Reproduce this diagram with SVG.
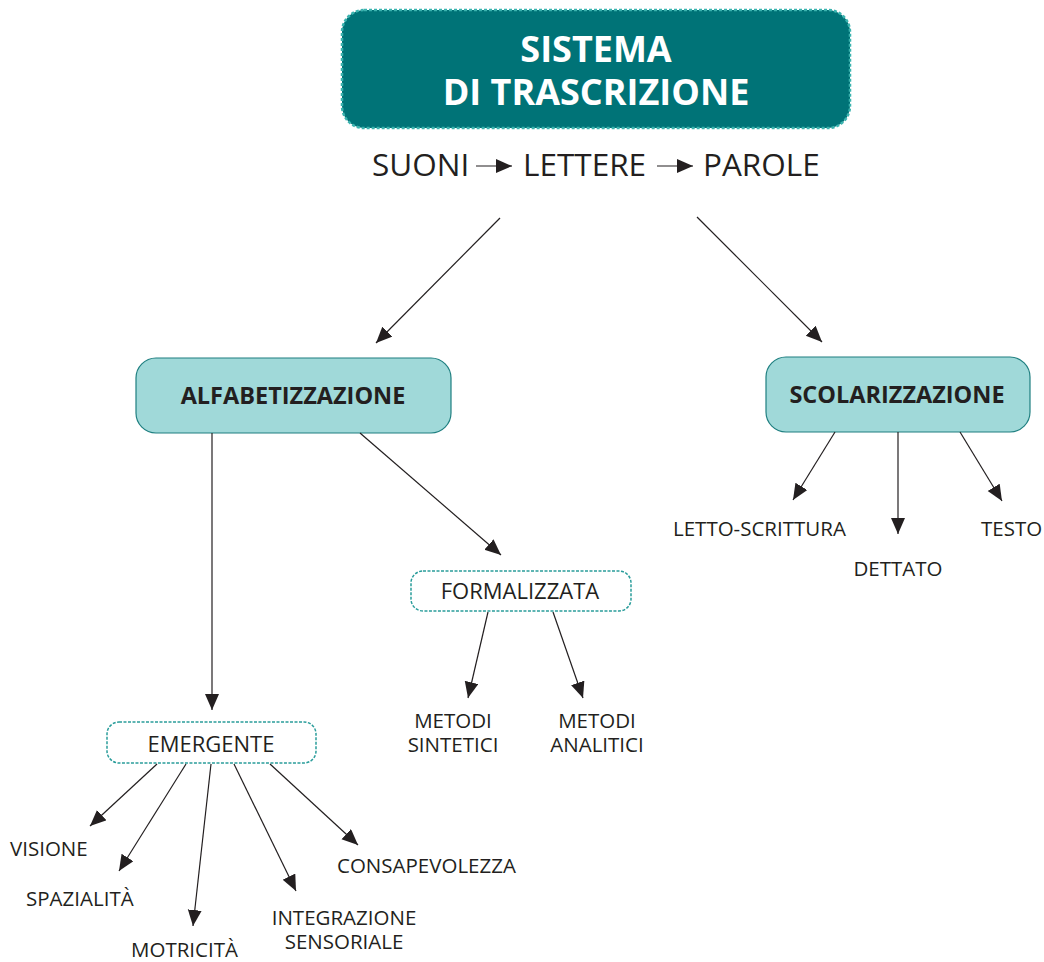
<svg xmlns="http://www.w3.org/2000/svg" width="1044" height="962" viewBox="0 0 1044 962">
<defs>
<marker id="ah" markerUnits="userSpaceOnUse" markerWidth="17" markerHeight="15" refX="16" refY="7" orient="auto">
<path d="M0,0 L16,7 L0,14 z" fill="#231f20"/>
</marker>
<style>
.t{font-family:"Open Sans","Noto Sans",sans-serif;fill:#231f20}
.lbl{font-size:20.5px}
.c{stroke:#231f20;stroke-width:1.2;fill:none;marker-end:url(#ah)}
.dash{fill:#fff;stroke:#2a9d9b;stroke-width:1.5;stroke-dasharray:3 1.5}
.main{fill:#a0d9d9;stroke:#1f7f80;stroke-width:1.2}
</style>
</defs>
<rect width="1044" height="962" fill="#fff"/>
<g id="root">
<rect x="342" y="10" width="508" height="118" rx="22" fill="#007377" stroke="#3bb3af" stroke-width="2.5" stroke-dasharray="3 2"/>
<text class="t" x="596" y="62" text-anchor="middle" font-size="36" font-weight="bold" style="fill:#fff">SISTEMA</text>
<text class="t" x="596" y="105" text-anchor="middle" font-size="36" font-weight="bold" style="fill:#fff">DI TRASCRIZIONE</text>
</g>
<g id="chain">
<text class="t" x="372" y="176" font-size="31.5">SUONI</text>
<text class="t" x="523" y="176" font-size="31.5">LETTERE</text>
<text class="t" x="703" y="176" font-size="31.5">PAROLE</text>
<line class="c" x1="476" y1="166" x2="512" y2="166"/>
<line class="c" x1="657" y1="166" x2="693" y2="166"/>
</g>
<g id="alfabetizzazione">
<rect class="main" x="136" y="358" width="315" height="75" rx="20"/>
<text class="t" x="293" y="404" text-anchor="middle" font-size="23.5" font-weight="bold">ALFABETIZZAZIONE</text>
</g>
<g id="scolarizzazione">
<rect class="main" x="766" y="357" width="264" height="75" rx="20"/>
<text class="t" x="897" y="403" text-anchor="middle" font-size="23.5" font-weight="bold">SCOLARIZZAZIONE</text>
</g>
<g id="formalizzata">
<rect class="dash" x="411" y="571" width="220" height="40" rx="12"/>
<text class="t" x="520" y="599" text-anchor="middle" font-size="22">FORMALIZZATA</text>
</g>
<g id="emergente">
<rect class="dash" x="107" y="722" width="209" height="41" rx="12"/>
<text class="t" x="211" y="752" text-anchor="middle" font-size="22">EMERGENTE</text>
</g>
<g id="metodi-sintetici">
<text class="t lbl" x="453" y="728" text-anchor="middle">METODI</text>
<text class="t lbl" x="453" y="752" text-anchor="middle">SINTETICI</text>
</g>
<g id="metodi-analitici">
<text class="t lbl" x="597" y="728" text-anchor="middle">METODI</text>
<text class="t lbl" x="597" y="752" text-anchor="middle">ANALITICI</text>
</g>
<g id="letto-scrittura"><text class="t lbl" x="673" y="536">LETTO-SCRITTURA</text></g>
<g id="dettato"><text class="t lbl" x="898" y="576" text-anchor="middle">DETTATO</text></g>
<g id="testo"><text class="t lbl" x="981" y="536">TESTO</text></g>
<g id="visione"><text class="t lbl" x="10" y="856">VISIONE</text></g>
<g id="spazialita"><text class="t lbl" x="26" y="906">SPAZIALITÀ</text></g>
<g id="motricita"><text class="t lbl" x="131" y="957">MOTRICITÀ</text></g>
<g id="integrazione">
<text class="t lbl" x="344" y="925" text-anchor="middle">INTEGRAZIONE</text>
<text class="t lbl" x="344" y="949" text-anchor="middle">SENSORIALE</text>
</g>
<g id="consapevolezza"><text class="t lbl" x="337" y="873">CONSAPEVOLEZZA</text></g>
<g id="connectors">
<line class="c" x1="500" y1="218" x2="376" y2="343"/>
<line class="c" x1="697" y1="217" x2="822" y2="342"/>
<line class="c" x1="212" y1="433" x2="212" y2="710"/>
<line class="c" x1="360" y1="433" x2="501" y2="555"/>
<line class="c" x1="488" y1="612" x2="468" y2="698"/>
<line class="c" x1="553" y1="612" x2="583" y2="698"/>
<line class="c" x1="835" y1="432" x2="793" y2="500"/>
<line class="c" x1="898" y1="432" x2="898" y2="534"/>
<line class="c" x1="960" y1="432" x2="1002" y2="501"/>
<line class="c" x1="157" y1="764" x2="90" y2="826"/>
<line class="c" x1="186" y1="764" x2="119" y2="871"/>
<line class="c" x1="211" y1="764" x2="193" y2="926"/>
<line class="c" x1="234" y1="764" x2="296" y2="891"/>
<line class="c" x1="270" y1="764" x2="358" y2="845"/>
</g>
</svg>
